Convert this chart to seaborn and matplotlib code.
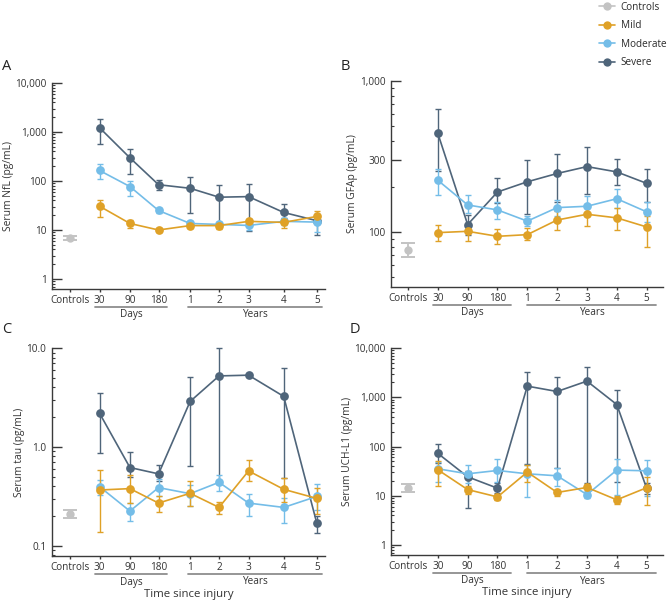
import numpy as np
import pandas as pd
import matplotlib
matplotlib.use("Agg")
import matplotlib.pyplot as plt
from matplotlib.lines import Line2D
from matplotlib.ticker import FixedLocator, LogLocator, NullFormatter
import seaborn as sns

# time points: controls + 30/90/180 days + 1..5 years
time_labels = ["Controls", "30", "90", "180", "1", "2", "3", "4", "5"]
groups = ["Severe", "Moderate", "Mild"]

# --- NfL (pg/mL) ---
nfl_ctrl = [6.8, 6.2, 7.4]  # mean, lower, upper
nfl_mild = [30.6, 13.6, 10.0, 12.3, 12.3, 15.0, 14.3, 18.9]
nfl_mild_lo = [18.6, 11.0, 9.0, 11.0, 10.3, 13.0, 11.2, 15.5]
nfl_mild_hi = [41.9, 16.0, 10.9, 13.8, 14.2, 16.9, 16.9, 23.9]
nfl_mod = [164, 77, 25, 13.6, 13.0, 12.4, 15.0, 14.5]
nfl_mod_lo = [110, 50, 22, 12.3, 11.8, 10.0, 12.4, 9.0]
nfl_mod_hi = [224, 102, 27.6, 15.0, 14.3, 14.7, 17.6, 20.0]
nfl_sev = [1224, 297, 84, 71, 46.7, 48, 22.8, 15.5]
nfl_sev_lo = [581, 139, 67, 22.4, 12.0, 9.7, 17.5, 8.0]
nfl_sev_hi = [1860, 459, 103, 122, 84, 88, 34, 19]

# --- GFAP (pg/mL) ---
gfap_ctrl = [76, 68, 84]
gfap_mild = [99, 101, 93.6, 96, 120, 131, 124, 108]
gfap_mild_lo = [87, 87, 83, 88, 103, 109, 103, 80]
gfap_mild_hi = [111, 115, 105, 106, 138, 152, 145, 128]
gfap_mod = [220, 151, 140, 118, 145, 148, 166, 136]
gfap_mod_lo = [176, 133, 122, 110, 128, 128, 144, 117]
gfap_mod_hi = [262, 175, 159, 127, 162, 174, 193, 158]
gfap_sev = [450, 112, 184, 215, 244, 271, 250, 210]
gfap_sev_lo = [255, 96, 155, 132, 159, 178, 205, 157]
gfap_sev_hi = [650, 129, 229, 299, 330, 367, 306, 263]

# --- tau (pg/mL) ---
tau_ctrl = [0.21, 0.19, 0.23]
tau_mild = [0.366, 0.378, 0.27, 0.339, 0.244, 0.571, 0.372, 0.301]
tau_mild_lo = [0.139, 0.27, 0.22, 0.25, 0.207, 0.45, 0.28, 0.21]
tau_mild_hi = [0.59, 0.525, 0.322, 0.449, 0.277, 0.734, 0.485, 0.385]
tau_mod = [0.396, 0.224, 0.387, 0.336, 0.438, 0.27, 0.244, 0.315]
tau_mod_lo = [0.326, 0.178, 0.322, 0.254, 0.355, 0.2, 0.169, 0.23]
tau_mod_hi = [0.467, 0.27, 0.47, 0.415, 0.516, 0.336, 0.303, 0.425]
tau_sev = [2.19, 0.618, 0.533, 2.88, 5.22, 5.31, 3.24, 0.17]
tau_sev_lo = [0.865, 0.5, 0.45, 0.638, 0.42, 5.15, 0.48, 0.134]
tau_sev_hi = [3.53, 0.885, 0.648, 5.14, 10.0, 5.45, 6.25, 0.198]

# --- UCH-L1 (pg/mL) ---
uch_ctrl = [14.6, 11.8, 17.1]
uch_mild = [33.8, 13.4, 9.5, 30.3, 11.7, 14.8, 8.3, 14.6]
uch_mild_lo = [16.2, 11.1, 8.4, 19, 10, 12, 6.8, 6.4]
uch_mild_hi = [51.5, 16.2, 11.1, 43, 13.4, 17.7, 10, 24.3]
uch_mod = [35.4, 28, 32.7, 28, 25.5, 10.6, 33.3, 32.2]
uch_mod_lo = [19, 18.4, 19, 9.5, 15.7, 9, 10.6, 10]
uch_mod_hi = [48, 42.7, 54.8, 43, 37, 12.3, 54.8, 54]
uch_sev = [72.7, 24.3, 14.3, 1683, 1310, 2128, 713, 14.3]
uch_sev_lo = [47, 5.6, 11.5, 45, 37, 18, 19, 10.8]
uch_sev_hi = [112, 31.5, 17.8, 3296, 2600, 4170, 1417, 17.8]

colors = {"Controls": "#c3c3c3", "Mild": "#dfa127",
          "Moderate": "#74bde8", "Severe": "#4f657a"}

sns.set_style("ticks")
plt.rcParams["font.family"] = ["Open Sans", "DejaVu Sans"]
plt.rcParams["axes.edgecolor"] = "#3a3a3a"
plt.rcParams["xtick.color"] = "#3a3a3a"
plt.rcParams["ytick.color"] = "#3a3a3a"
plt.rcParams["text.color"] = "#2b2b2b"

fig = plt.figure(figsize=(6.67, 6.03), dpi=100)
W, H = 667, 603


def px_axes(l, t, r, b):
    return fig.add_axes([l / W, 1 - b / H, (r - l) / W, (b - t) / H])


pos_left = [0, 1, 2.03, 3, 4.07, 5.05, 6.05, 7.24, 8.36]
pos_right = [0, 1, 2, 3, 4, 5, 6, 7, 8]


def panel(ax, pos, ctrl, series, ylim, majors, major_labels, ylabel,
          days_span, years_span, xlim, show_xlabel):
    rows = []
    for g, (m, lo, hi) in series.items():
        for i in range(8):
            rows.append({"x": pos[i + 1], "y": m[i], "lo": lo[i], "hi": hi[i], "group": g})
    df = pd.DataFrame(rows)
    for g in groups:
        d = df[df.group == g]
        ax.errorbar(d.x, d.y, yerr=[d.y - d.lo, d.hi - d.y], fmt="none",
                    ecolor=colors[g], elinewidth=1.0, capsize=2.2, capthick=1.0,
                    clip_on=False, zorder=2)
        sns.lineplot(data=d, x="x", y="y", color=colors[g], marker="o",
                     markersize=6.3, markeredgewidth=0, linewidth=1.2,
                     sort=False, ax=ax, legend=False, zorder=3)
    # controls: caps drawn above the marker so they stay visible
    ax.plot([pos[0]], [ctrl[0]], "o", color=colors["Controls"], markersize=6,
            markeredgewidth=0, zorder=3)
    ax.errorbar([pos[0]], [ctrl[0]], yerr=[[ctrl[0] - ctrl[1]], [ctrl[2] - ctrl[0]]],
                fmt="none", ecolor=colors["Controls"], elinewidth=1.3,
                capsize=5.2, capthick=1.4, zorder=4)

    ax.set_yscale("log")
    ax.set_ylim(*ylim)
    ax.set_xlim(*xlim)
    ax.yaxis.set_major_locator(FixedLocator(majors))
    ax.set_yticklabels(major_labels)
    ax.yaxis.set_minor_locator(LogLocator(base=10, subs=np.arange(2, 10), numticks=20))
    ax.yaxis.set_minor_formatter(NullFormatter())
    ax.set_xticks(pos)
    ax.set_xticklabels(time_labels)
    ax.tick_params(axis="y", which="major", direction="in", length=7, width=1.0,
                   pad=4, labelsize=7.2, labelcolor="#333333")
    ax.tick_params(axis="y", which="minor", direction="in", length=2.5, width=0.8)
    ax.tick_params(axis="x", direction="out", length=2.5, width=1.0, pad=2,
                   labelsize=7.2, labelcolor="#333333")
    ax.set_xlabel("")
    ax.set_ylabel(ylabel, fontsize=7.4, labelpad=1, color="#333333")
    sns.despine(ax=ax)
    for sp in ["left", "bottom"]:
        ax.spines[sp].set_linewidth(1.0)

    tr = ax.get_xaxis_transform()
    hpx = ax.get_position().height * H
    yline = -18 / hpx
    ytxt = -26 / hpx
    for (a, b), name in [(days_span, "Days"), (years_span, "Years")]:
        ax.plot([a, b], [yline, yline], transform=tr, color="#8e8e8e",
                linewidth=1.3, clip_on=False)
        ax.text((a + b) / 2, ytxt, name, transform=tr, ha="center", va="center",
                fontsize=7.2, color="#333333")
    if show_xlabel:
        ax.text(0.5, -38 / hpx, "Time since injury", transform=ax.transAxes,
                ha="center", va="center", fontsize=8.2, color="#333333")


axA = px_axes(52, 83, 325, 289)
axB = px_axes(391, 81, 663, 287)
axC = px_axes(52, 348, 325, 556)
axD = px_axes(391, 348, 663, 555)

dec_labels = ["1", "10", "100", "1,000", "10,000"]
xl_left = (-0.61, 8.64)
xl_right = (-0.57, 8.55)

panel(axA, pos_left, nfl_ctrl,
      {"Severe": (nfl_sev, nfl_sev_lo, nfl_sev_hi),
       "Moderate": (nfl_mod, nfl_mod_lo, nfl_mod_hi),
       "Mild": (nfl_mild, nfl_mild_lo, nfl_mild_hi)},
      (0.625, 10000), [1, 10, 100, 1000, 10000], dec_labels,
      "Serum NfL (pg/mL)", (0.85, 3.3), (4.0, 8.55), xl_left, False)
panel(axB, pos_right, gfap_ctrl,
      {"Severe": (gfap_sev, gfap_sev_lo, gfap_sev_hi),
       "Moderate": (gfap_mod, gfap_mod_lo, gfap_mod_hi),
       "Mild": (gfap_mild, gfap_mild_lo, gfap_mild_hi)},
      (43.2, 1000), [100, 300, 1000], ["100", "300", "1,000"],
      "Serum GFAp (pg/mL)", (0.85, 3.45), (4.0, 8.3), xl_right, False)
panel(axC, pos_left, tau_ctrl,
      {"Severe": (tau_sev, tau_sev_lo, tau_sev_hi),
       "Moderate": (tau_mod, tau_mod_lo, tau_mod_hi),
       "Mild": (tau_mild, tau_mild_lo, tau_mild_hi)},
      (0.0787, 10), [0.1, 1, 10], ["0.1", "1.0", "10.0"],
      "Serum tau (pg/mL)", (0.85, 3.3), (4.0, 8.55), xl_left, True)
panel(axD, pos_right, uch_ctrl,
      {"Severe": (uch_sev, uch_sev_lo, uch_sev_hi),
       "Moderate": (uch_mod, uch_mod_lo, uch_mod_hi),
       "Mild": (uch_mild, uch_mild_lo, uch_mild_hi)},
      (0.63, 10000), [1, 10, 100, 1000, 10000], dec_labels,
      "Serum UCH-L1 (pg/mL)", (0.85, 3.45), (4.0, 8.3), xl_right, True)

for letter, x, y in [("A", 2, 67), ("B", 341, 67), ("C", 2, 330), ("D", 350, 330)]:
    fig.text(x / W, 1 - y / H, letter, fontsize=10.5, va="center", ha="left",
             color="#222222")

handles = [Line2D([0], [0], color=colors[g], marker="o", markersize=6,
                  markeredgewidth=0, linewidth=1.2)
           for g in ["Controls", "Mild", "Moderate", "Severe"]]
fig.legend(handles, ["Controls", "Mild", "Moderate", "Severe"], loc="upper right",
           bbox_to_anchor=(0.999, 0.997), frameon=False, fontsize=7.2,
           handlelength=1.6, handletextpad=0.55, labelspacing=0.75,
           borderpad=0, borderaxespad=0)

fig.savefig("out.png", dpi=100)
